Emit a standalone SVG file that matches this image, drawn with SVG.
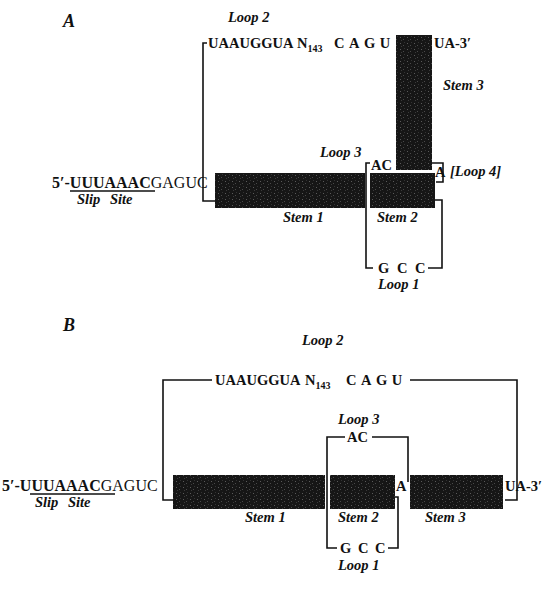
<svg xmlns="http://www.w3.org/2000/svg" width="549" height="591" viewBox="0 0 549 591">
<style>
.seq{font-family:"Liberation Serif",serif;font-weight:bold;font-size:14.5px;fill:#111}
.row{font-family:"Liberation Serif",serif;font-weight:bold;font-size:16px;fill:#111}
.lbl{font-family:"Liberation Serif",serif;font-weight:bold;font-style:italic;font-size:14.5px;fill:#111}
.ttl{font-family:"Liberation Serif",serif;font-weight:bold;font-style:italic;font-size:18px;fill:#111}
.sub{font-size:10px}
.ln{stroke:#111;stroke-width:1.6;fill:none}
.stem{fill:url(#speckle)}
</style>
<defs>
<pattern id="speckle" width="7" height="6" patternUnits="userSpaceOnUse">
<rect width="7" height="6" fill="#161616"/>
<rect x="1" y="1" width="1" height="1" fill="#5a5a5a"/>
<rect x="4" y="3" width="1" height="1" fill="#4a4a4a"/>
<rect x="2" y="4" width="1" height="1" fill="#3a3a3a"/>
<rect x="5" y="0" width="1" height="1" fill="#333"/>
</pattern>
</defs>
<rect width="549" height="591" fill="#fff"/>

<!-- Panel A -->
<g id="titleA"><text class="ttl" x="63" y="27">A</text></g>
<g id="connectorsA">
<path class="ln" d="M207,43 H203 V201 H215"/>
<path class="ln" d="M370,163 H366 V268 H373"/>
<path class="ln" d="M432,163 H443 V182 H436"/>
<path class="ln" d="M435,200 H442 V268 H428"/>
<line class="ln" x1="70" y1="191" x2="155" y2="191"/>
</g>
<g id="loop2A">
<text class="lbl" x="228" y="22">Loop 2</text>
<text class="seq" y="48"><tspan x="208">UAAUGGUA</tspan><tspan x="297">N</tspan><tspan class="sub" dy="4">143</tspan><tspan x="334" dy="-4" letter-spacing="4.5">CAGU</tspan></text>
</g>
<g id="stem3A">
<rect class="stem" x="396" y="35" width="36" height="135"/>
<text class="seq" x="434" y="48">UA-3′</text>
<text class="lbl" x="443" y="90">Stem 3</text>
</g>
<g id="loop3A">
<text class="lbl" x="320" y="157">Loop 3</text>
<text class="seq" x="371" y="170">AC</text>
</g>
<g id="loop4A">
<text class="seq" x="435" y="177" font-size="12">A</text>
<text class="lbl" x="450" y="176">[Loop 4]</text>
</g>
<g id="rowA">
<text class="row" x="52" y="188">5′-UUUAAAC<tspan font-weight="normal">GAGUC</tspan></text>
<text class="lbl" y="204"><tspan x="77">Slip</tspan><tspan x="110">Site</tspan></text>
</g>
<g id="stem1A">
<rect class="stem" x="215" y="173" width="150" height="35"/>
<text class="lbl" x="283" y="222">Stem 1</text>
</g>
<g id="stem2A">
<rect class="stem" x="370" y="173" width="65" height="35"/>
<text class="lbl" x="377" y="222">Stem 2</text>
</g>
<g id="loop1A">
<text class="seq" x="378" y="273" letter-spacing="2">G C C</text>
<text class="lbl" x="378" y="289">Loop 1</text>
</g>

<!-- Panel B -->
<g id="titleB"><text class="ttl" x="63" y="331">B</text></g>
<g id="connectorsB">
<path class="ln" d="M212,380 H163 V500 H175"/>
<path class="ln" d="M410,380 H517 V500 H505"/>
<path class="ln" d="M345,437 H327 V548 H337"/>
<path class="ln" d="M372,437 H408 V482"/>
<path class="ln" d="M395,497 H398 V548 H388"/>
<line class="ln" x1="30" y1="494" x2="115" y2="494"/>
</g>
<g id="loop2B">
<text class="lbl" x="302" y="345">Loop 2</text>
<text class="seq" y="385"><tspan x="215">UAAUGGUA</tspan><tspan x="305">N</tspan><tspan class="sub" dy="4">143</tspan><tspan x="346" dy="-4" letter-spacing="4.5">CAGU</tspan></text>
</g>
<g id="rowB">
<text class="row" x="2" y="491">5′-UUUAAAC<tspan font-weight="normal">GAGUC</tspan></text>
<text class="lbl" y="507"><tspan x="35">Slip</tspan><tspan x="68">Site</tspan></text>
</g>
<g id="stem1B">
<rect class="stem" x="173" y="475" width="152" height="34"/>
<text class="lbl" x="245" y="522">Stem 1</text>
</g>
<g id="loop3B">
<text class="lbl" x="338" y="424">Loop 3</text>
<text class="seq" x="347" y="442">AC</text>
</g>
<g id="stem2B">
<rect class="stem" x="330" y="475" width="65" height="34"/>
<text class="lbl" x="338" y="522">Stem 2</text>
</g>
<g id="loop4B"><text class="seq" x="396" y="491">A</text></g>
<g id="stem3B">
<rect class="stem" x="410" y="475" width="93" height="34"/>
<text class="seq" x="505" y="491">UA-3′</text>
<text class="lbl" x="425" y="522">Stem 3</text>
</g>
<g id="loop1B">
<text class="seq" x="340" y="553" letter-spacing="1.5">G C C</text>
<text class="lbl" x="338" y="570">Loop 1</text>
</g>
</svg>
